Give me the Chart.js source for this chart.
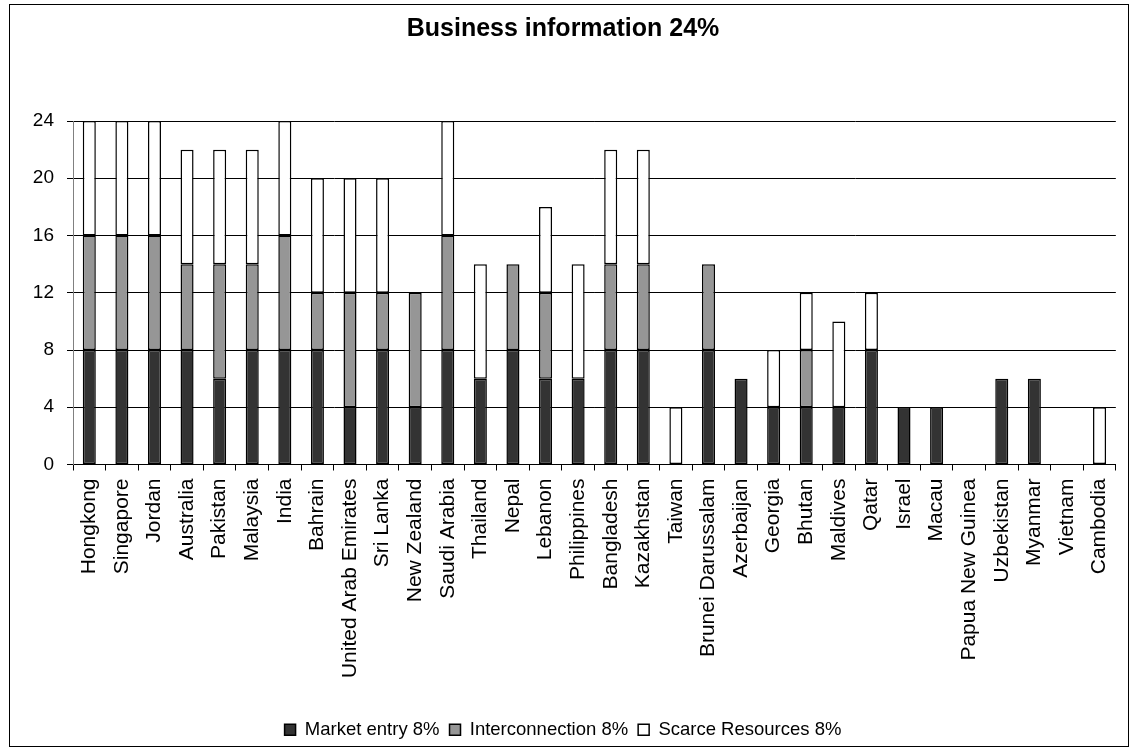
<!DOCTYPE html>
<html lang="en">
<head>
  <meta charset="UTF-8">
  <title>Business information 24%</title>
  <script src="https://cdn.jsdelivr.net/npm/chart.js"></script>
  <style>
    body { margin: 0; background: #fff; }
    #wrap { width: 1133px; height: 750px; }
  </style>
</head>
<body>
  <div id="wrap">
    <canvas id="grafica" width="1133" height="750"></canvas>
  </div>

  <script>
    const paises = [
      'Hongkong', 'Singapore', 'Jordan', 'Australia', 'Pakistan', 'Malaysia', 'India', 'Bahrain',
      'United Arab Emirates', 'Sri Lanka', 'New Zealand', 'Saudi Arabia', 'Thailand', 'Nepal',
      'Lebanon', 'Philippines', 'Bangladesh', 'Kazakhstan', 'Taiwan', 'Brunei Darussalam',
      'Azerbaijan', 'Georgia', 'Bhutan', 'Maldives', 'Qatar', 'Israel', 'Macau',
      'Papua New Guinea', 'Uzbekistan', 'Myanmar', 'Vietnam', 'Cambodia'
    ];

    const marketEntry     = [8, 8, 8, 8, 6, 8, 8, 8, 4, 8, 4, 8, 6, 8, 6, 6, 8, 8, 0, 8, 6, 4, 4, 4, 8, 4, 4, 0, 6, 6, 0, 0];
    const interconnection = [8, 8, 8, 6, 8, 6, 8, 4, 8, 4, 8, 8, 0, 6, 6, 0, 6, 6, 0, 6, 0, 0, 4, 0, 0, 0, 0, 0, 0, 0, 0, 0];
    const scarceResources = [8, 8, 8, 8, 8, 8, 8, 8, 8, 8, 0, 8, 8, 0, 6, 8, 8, 8, 4, 0, 0, 4, 4, 6, 4, 0, 0, 0, 0, 0, 0, 4];

    const yTicks = [0, 4, 8, 12, 16, 20, 24];

    Chart.defaults.font.family = "'Liberation Sans', Arial, sans-serif";
    Chart.defaults.color = '#000';

    // fondo blanco y marco alrededor de todo el gráfico
    const marco = {
      id: 'marco',
      beforeDraw(chart) {
        const c = chart.ctx;
        c.save();
        c.fillStyle = '#fff';
        c.fillRect(0, 0, chart.width, chart.height);
        c.strokeStyle = '#000';
        c.lineWidth = 1;
        c.strokeRect(9.5, 4.5, chart.width - 14, chart.height - 8);
        c.restore();
      }
    };

    const serie = (label, data, color) => ({
      label: label,
      data: data,
      backgroundColor: color,
      borderColor: '#000',
      borderWidth: 1.5,
      borderSkipped: false,
      barPercentage: 0.4,
      categoryPercentage: 1
    });

    new Chart(document.getElementById('grafica'), {
      type: 'bar',
      data: {
        labels: paises,
        datasets: [
          serie('Market entry 8%', marketEntry, '#333333'),
          serie('Interconnection 8%', interconnection, '#969696'),
          serie('Scarce Resources 8%', scarceResources, '#ffffff')
        ]
      },
      options: {
        responsive: false,
        animation: false,
        layout: { padding: { left: 10, right: 17, top: 0, bottom: 1 } },
        plugins: {
          title: {
            display: true,
            text: 'Business information 24%',
            font: { size: 25, weight: 'bold' },
            padding: { top: 14, bottom: 77 }
          },
          legend: {
            position: 'bottom',
            labels: { boxWidth: 11, boxHeight: 11, font: { size: 18.5 }, padding: 10 }
          },
          tooltip: { enabled: false }
        },
        scales: {
          x: {
            stacked: true,
            grid: { drawOnChartArea: false, tickLength: 6, color: '#000' },
            border: { color: '#000' },
            ticks: { autoSkip: false, minRotation: 90, maxRotation: 90, font: { size: 21 }, padding: 8 },
            afterFit(s) { s.height = 246; }
          },
          y: {
            stacked: true,
            min: yTicks[0],
            max: yTicks[yTicks.length - 1],
            grid: { color: '#000', tickColor: '#000', tickLength: 6 },
            border: { color: '#808080' },
            ticks: { stepSize: yTicks[1] - yTicks[0], font: { size: 19 }, padding: 13 },
            afterFit(s) { s.width = 63; }
          }
        }
      },
      plugins: [marco]
    });
  </script>
</body>
</html>
